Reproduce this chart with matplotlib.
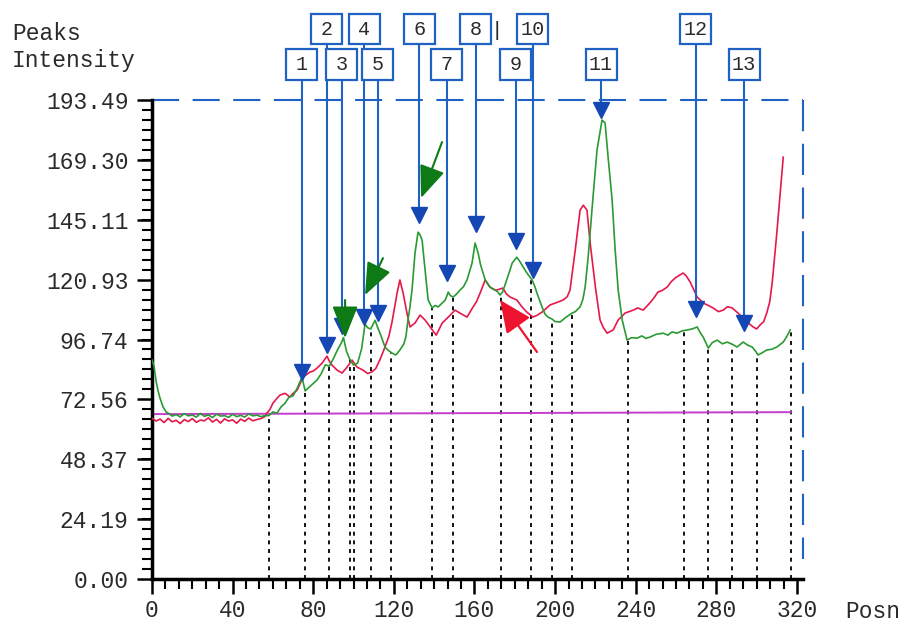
import numpy as np
import matplotlib.pyplot as plt
from matplotlib.patches import Rectangle
from matplotlib.ticker import FixedLocator, MultipleLocator

plt.rcParams['font.family'] = ['Liberation Mono', 'DejaVu Sans Mono']

# === Data ===
# green trace
green_x = [0, 1, 2, 3, 4, 5.5, 7,
           8, 10, 12, 14, 16, 18, 20, 22, 24, 26, 28, 30, 32, 34, 36, 38, 40,
           42, 44, 46, 48, 50, 52, 54, 56,
           58, 60, 62, 64, 66, 68, 70, 72, 74.4, 76, 78, 80, 82, 84, 86, 88,
           90, 92, 94, 95, 96.5, 98, 100, 102, 104, 105.7, 107, 108.5, 110.7,
           112, 113.5, 115.6, 117, 119, 121, 123, 125, 126, 127, 128, 129,
           130.5, 132, 133, 134, 135.5, 137, 139, 140.5, 142, 144, 145.5, 147,
           148, 149.4, 151, 152.8, 154.5, 156.3, 157.5, 158.8, 160.3, 161.8,
           163, 163.8, 165.3, 167.7, 170.2, 171.5, 172.7, 174, 176, 177.5,
           178.7, 181, 182.3, 183.6, 186, 188.6, 190, 191, 193.5, 195, 196.5,
           198.5, 200, 202.5, 205, 208.4, 210, 212.4, 213.8, 214.9, 216.4,
           218.4, 220.8, 223.3, 224.8, 226.3, 228.3, 229.8, 231.3, 233.3,
           235.7, 238, 240.7, 243, 245, 247, 250, 253.6, 256, 258, 260.5, 263,
           265.5, 268, 270.5, 272, 273.5, 276, 278, 280.4, 283, 285.4, 288,
           290.3, 293.3, 295.5, 297.8, 299.5, 300.7, 303, 305, 307.5, 310,
           313.2, 315, 316.6]
green_y = [88.5, 86, 80, 76, 73, 69.5, 67.5,
           67.0, 65.8, 66.4, 65.5, 66.8, 65.9, 66.2, 65.4, 66.9, 65.7, 66.3,
           65.2, 66.6, 65.8, 66.0, 65.3, 66.5, 65.6, 66.1, 65.4, 66.7, 65.9,
           66.2, 65.6, 66.0,
           66.0, 67.5, 67, 69.5, 71, 73.5, 74, 77, 81.5, 76, 77.5, 79, 80.5,
           83, 86.5, 86, 89, 92.5, 95.5, 97.5, 92, 89, 86.4, 87.2, 93, 103,
           101.5, 101, 104.5, 101.5, 98.5, 93.7, 92.5, 91.3, 90.5, 92.5, 95,
           98, 104.6, 110, 116.7, 131.7, 140.1, 139, 136.9, 124.8, 112.7,
           109.5, 110.5, 109.9, 111.5, 112.7, 115.9, 114.5, 113.9, 115, 116.7,
           118, 120.8, 124, 127.6, 135.7, 131.7, 127, 124.8, 120.8, 117.9,
           116.7, 116, 114.7, 116, 120.8, 124.5, 127.6, 130.0, 128.5, 126.8,
           123.6, 120.8, 118, 115.5, 109.9, 107, 105.8, 105, 104, 103.8, 105.5,
           107.4, 108, 109.9, 113, 117.9, 130, 150.2, 173.3, 185.4, 184.2,
           170.4, 153, 132.9, 116.7, 104.6, 96.5, 97.5, 97.3, 98.2, 97.2, 97.7,
           98.8, 99.3, 98.5, 99.8, 99.3, 100.2, 100.6, 101, 101.8, 99.5, 97.7,
           93.3, 95.5, 96.5, 95, 95.7, 94.8, 93.7, 95.7, 94.5, 93.7, 92, 90.5,
           91.5, 92.5, 92.8, 93.7, 95.7, 98, 100.6]

# red trace
red_x = [0, 2, 4, 6, 8, 10, 12, 14, 16, 18, 20, 22, 24, 26, 28, 30, 32, 34,
         36, 38, 40, 42, 44, 46, 48, 50, 52, 54, 56,
         57, 58.5, 60, 62, 63.5, 66, 68.5, 70, 72, 75, 78.4, 80, 81.9, 84.4,
         86.8, 88, 89.3, 91.8, 94.3, 96.8, 99.3, 101.7, 104.7, 107, 109, 111,
         113, 115.6, 117.5, 119, 121.6, 123, 124.6, 126.5, 128, 130.5, 133,
         135.5, 138, 141, 142.5, 144, 147, 150.4, 152.8, 156.3, 159.3, 161,
         162.8, 165.3, 167.7, 169.5, 171, 174, 176, 177.7, 181, 183.5, 186,
         189, 191, 193.5, 197.5, 201.5, 204, 206, 207.4, 210, 212.4, 214,
         215.8, 217.4, 220, 222.3, 224, 225.8, 228.8, 231.3, 234.7, 238.7,
         241, 243.7, 247, 249, 251, 253, 255.6, 257.5, 259.6, 263.5, 265, 267,
         270.5, 273.5, 276, 278.4, 281, 283.4, 285.5, 287.8, 290.8, 294.3,
         296.5, 298.3, 300, 301.7, 303.5, 305, 306.5, 307.7, 310, 311.7,
         312.5, 313.2]
red_y = [65.0, 63.8, 64.6, 63.2, 64.9, 63.5, 64.1, 62.8, 64.4, 63.6, 64.8,
         63.3, 64.2, 63.9, 65.1, 63.4, 64.5, 63.0, 64.7, 63.8, 64.3, 62.9,
         64.6, 63.7, 65.0, 63.9, 64.4, 64.8, 65.6,
         67, 68.5, 71, 73, 74.3, 75, 73.5, 75, 76.3, 81.6, 83.6, 84, 85.2,
         87.2, 90, 88, 86.4, 84.4, 83.2, 85.6, 88.4, 85.6, 84.4, 83, 83.6,
         85, 88.4, 93.7, 98, 103.4, 115.5, 120.8, 115.5, 107.4, 101.8, 103.4,
         106.6, 104.6, 101.8, 98.5, 101, 103.4, 105.8, 108.6, 107.4, 105.8,
         109.9, 112, 115.5, 120.8, 117.9, 117, 116.7, 117.5, 115, 113.9,
         112.7, 110, 107.8, 105.8, 106.5, 107.8, 110.7, 111.9, 112.7, 114,
         116.7, 132.9, 149.0, 151, 149, 135.7, 117.9, 104.6, 101.5, 99.3,
         100.6, 104.6, 107.4, 108.6, 109.5, 108.6, 111.5, 113.5, 115.9, 116.5,
         117.9, 120, 121.6, 123.6, 122.5, 120, 113.9, 111.5, 110.5, 109.5,
         108, 108.6, 110, 109.5, 107.4, 104.6, 103, 101.8, 101, 102.6, 104,
         107.4, 112, 119.5, 139.7, 155.9, 163, 170.4]

# baseline
base_x = [0, 317]
base_y = [66.6, 67.4]

# numbered peaks
peak_ids = ['1', '2', '3', '4', '5', '6', '7', '8', '9', '10', '11', '12', '13']
peak_x = [74.3, 86.7, 94.1, 105.4, 112.0, 132.7, 146.2, 160.6, 180.5, 188.9,
          222.8, 269.8, 293.8]
peak_y = [83.6, 94.5, 102, 105.8, 107.4, 147, 123.6, 143.4, 136.5, 124.8,
          189.4, 109, 103.4]
peak_row = [0, 1, 0, 1, 0, 1, 0, 1, 0, 1, 0, 1, 0]   # 1 = upper row of boxes

# band cut positions (dotted lines)
cut_x = [58, 76, 88, 98, 100, 108.5, 118.5, 139, 149.5, 173, 188, 198.5,
         208.5, 236, 264, 276, 288, 300, 317]

# hand-drawn arrows (tail, head)
green_arrows = [((143.9, 176.5), (133.5, 153.9)),
                ((114.6, 129.6), (105.7, 114.7)),
                ((95.8, 112.7), (95.8, 97.3))]
red_arrow = ((191.0, 91.7), (172.7, 112.7))

ytick_labels = ['0.00', '24.19', '48.37', '72.56', '96.74', '120.93',
                '145.11', '169.30', '193.49']
xtick_vals = [0, 40, 80, 120, 160, 200, 240, 280, 320]

BLUE = '#1f62c4'
TRI = '#1446b4'
GREEN = '#2a9a32'
RED = '#e5184c'
MAG = '#c43ccc'
TXT = '#2a2a2a'
FS = 16.5

fig = plt.figure(figsize=(9.02, 6.23), dpi=100)
ax = fig.add_axes([152 / 902, 1 - 579 / 623, (803 - 152) / 902, (579 - 100) / 623])

ytick_vals = [float(s) for s in ytick_labels]
ymax = ytick_vals[-1]
ax.set_xlim(0, 323)
ax.set_ylim(0, ymax)

# dotted band cuts up to the green trace
cut_top = np.interp(cut_x, green_x, green_y)
ax.vlines(cut_x, 0, cut_top, colors='black', linestyles=(0, (2.2, 2.6)), lw=1.3, zorder=1)

ax.plot(base_x, base_y, color=MAG, lw=1.4, zorder=2)
ax.plot(red_x, red_y, color=RED, lw=1.2, zorder=3)
ax.plot(green_x, green_y, color=GREEN, lw=1.2, zorder=4)

# blue frame (top / right, dashed)
ax.plot([0, 323], [ymax, ymax], color=BLUE, lw=1.5, ls=(0, (13, 6.5)), clip_on=False, zorder=2)
ax.plot([323, 323], [ymax, 8], color=BLUE, lw=1.5, ls=(0, (15, 6)), clip_on=False, zorder=2)

# numbered boxes with pointer lines
bw, bh = 15.4, 12.2
for pid, px, py, row in zip(peak_ids, peak_x, peak_y, peak_row):
    yc = 222.1 if row else 207.8
    ax.plot([px, px], [yc - bh / 2, py], color=BLUE, lw=1.5, clip_on=False, zorder=5)
    ax.add_patch(Rectangle((px - bw / 2, yc - bh / 2), bw, bh, fc='white', ec=BLUE,
                           lw=1.6, clip_on=False, zorder=6))
    ax.text(px, yc, pid, ha='center', va='center', fontsize=14.5, color=TXT,
            clip_on=False, zorder=7)
ax.plot(peak_x, peak_y, 'v', color=TRI, ms=11, zorder=6, clip_on=False)
ax.text(171.2, 221.7, '|', ha='center', va='center', fontsize=15, color=TXT, clip_on=False)

# hand-drawn arrows
for tail, head in green_arrows:
    ax.annotate('', xy=head, xytext=tail,
                arrowprops=dict(arrowstyle='-|>,head_length=1.0,head_width=0.4',
                                mutation_scale=20, color='#0d7a16', lw=1.5,
                                shrinkA=0, shrinkB=0), zorder=8)
ax.annotate('', xy=red_arrow[1], xytext=red_arrow[0],
            arrowprops=dict(arrowstyle='-|>,head_length=1.0,head_width=0.45',
                            mutation_scale=20, color='#ee1430', lw=1.6,
                            shrinkA=0, shrinkB=0), zorder=8)

# axes styling
for s in ['top', 'right']:
    ax.spines[s].set_visible(False)
for s in ['left', 'bottom']:
    ax.spines[s].set_linewidth(2.5)
    ax.spines[s].set_color('black')

ax.yaxis.set_major_locator(FixedLocator(ytick_vals))
ax.set_yticklabels(ytick_labels)
ax.yaxis.set_minor_locator(MultipleLocator(ymax / 48))
ax.xaxis.set_major_locator(FixedLocator(xtick_vals))
ax.set_xticklabels([str(v) for v in xtick_vals])
ax.xaxis.set_minor_locator(MultipleLocator(40 / 6))

ax.tick_params(which='major', length=11, width=1.8, direction='out', labelsize=FS,
               labelcolor=TXT)
ax.tick_params(which='minor', length=7.5, width=1.5, direction='out')
ax.tick_params(axis='y', which='major', pad=6)
ax.tick_params(axis='x', which='major', pad=3.5)

fig.text(12 / 902, 1 - 33 / 623, 'Peaks', ha='left', va='center', fontsize=FS, color=TXT)
fig.text(12 / 902, 1 - 60 / 623, 'Intensity', ha='left', va='center', fontsize=FS, color=TXT)
fig.text(845 / 902, 1 - 611 / 623, 'Posn', ha='left', va='center', fontsize=FS, color=TXT)

fig.savefig('out.png', dpi=100, facecolor='white')
